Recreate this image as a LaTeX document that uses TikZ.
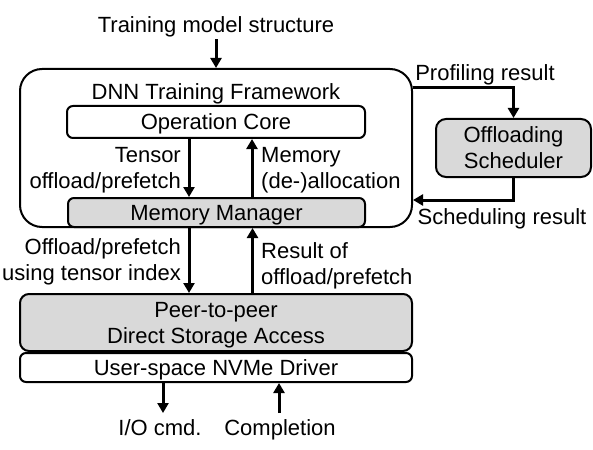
\documentclass[tikz,border=0pt]{standalone}
\usepackage{fontspec}
\setmainfont{Liberation Sans}
\usetikzlibrary{arrows.meta,calc}
\definecolor{BoxClr}{rgb}{0.85,0.85,0.85}

\begin{document}
\begin{tikzpicture}[x=1pt,y=-1pt,
  font=\fontsize{22}{26}\selectfont,
  box/.style={draw,line width=2pt,inner sep=0pt,align=center,text depth=0pt},
  arr/.style={line width=3pt,-{Triangle[width=11pt,length=10pt]}},
  lbl/.style={inner sep=0pt,align=center,text depth=0pt}]
\useasboundingbox (0,0) rectangle (593,449);

\node[box,rounded corners=22pt,minimum width=392pt,minimum height=158pt] (fw) at (216,148) {};
\node[lbl] (fwt) at (216,92) {DNN Training Framework};
\node[box,rounded corners=6pt,minimum width=298pt,minimum height=32pt] (oc) at (216,122) {Operation Core};
\node[box,rounded corners=6pt,fill=BoxClr,minimum width=297pt,minimum height=29pt] (mm) at (216.5,212.5) {Memory Manager};
\node[box,rounded corners=9pt,fill=BoxClr,minimum width=392pt,minimum height=57pt] (p2p) at (216,322.5) {Peer-to-peer\\Direct Storage Access};
\node[box,rounded corners=6pt,minimum width=392pt,minimum height=29pt] (nvme) at (216,367.5) {User-space NVMe Driver};
\node[box,rounded corners=10pt,fill=BoxClr,minimum width=155pt,minimum height=58pt] (os) at (513.5,148) {Offloading\\Scheduler};

\node[lbl] (tms) at (216,25) {Training model structure};
\node[lbl,align=right,anchor=east] (tensor) at (181,168) {Tensor\\offload/prefetch};
\node[lbl,align=left,anchor=west] (alloc) at (261,168) {Memory\\(de-)allocation};
\node[lbl,align=right,anchor=east] (index) at (181,259.5) {Offload/prefetch\\using tensor index};
\node[lbl,align=left,anchor=west] (res) at (261,263.5) {Result of\\offload/prefetch};
\node[lbl] (io) at (160,428) {I/O cmd.};
\node[lbl] (comp) at (280,428) {Completion};
\node[lbl] (prof) at (485,73) {Profiling result};
\node[lbl] (sched) at (502,217) {Scheduling result};

\coordinate (ioend) at (163,413);
\coordinate (compend) at (279,413);

\draw[arr] ([yshift=-6pt]tms.south) -- (fw.north);
\draw[arr] ([xshift=-27pt]oc.south) -- ([xshift=-27.5pt]mm.north);
\draw[arr] ([xshift=35.5pt]mm.north) -- ([xshift=36pt]oc.south);
\draw[arr] ([xshift=-27.5pt]mm.south) -- ([xshift=-27pt]p2p.north);
\draw[arr] ([xshift=36.5pt]p2p.north) -- ([xshift=36pt]mm.south);
\draw[arr] ([xshift=-53pt]nvme.south) -- (ioend);
\draw[arr] (compend) -- ([xshift=63pt]nvme.south);
\draw[arr] ([yshift=60pt]fw.east) -| (os.north);
\draw[arr] (os.south) |- ([yshift=-52pt]fw.east);
\end{tikzpicture}
\end{document}
